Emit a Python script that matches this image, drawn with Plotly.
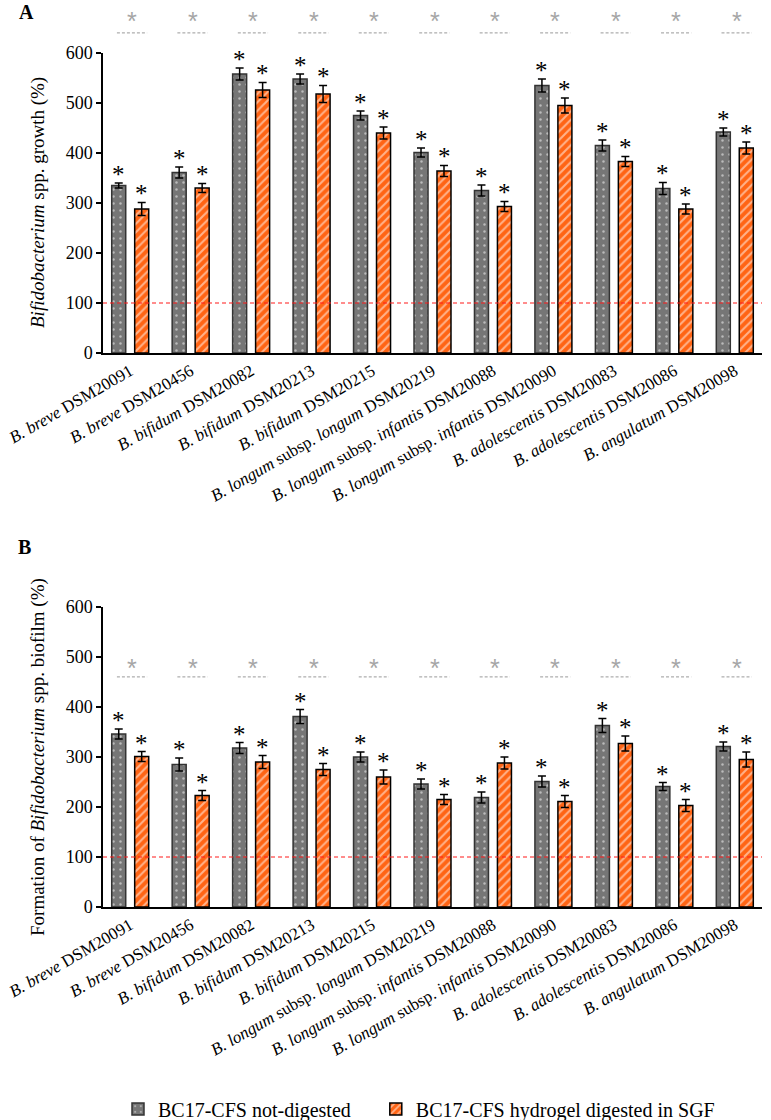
import plotly.graph_objects as go

# ---------------- data ----------------
strains = ["B. breve DSM20091", "B. breve DSM20456", "B. bifidum DSM20082", "B. bifidum DSM20213",
           "B. bifidum DSM20215", "B. longum subsp. longum DSM20219", "B. longum subsp. infantis DSM20088",
           "B. longum subsp. infantis DSM20090", "B. adolescentis DSM20083", "B. adolescentis DSM20086",
           "B. angulatum DSM20098"]
tick_labels = ["<i>B. breve</i> DSM20091", "<i>B. breve</i> DSM20456", "<i>B. bifidum</i> DSM20082",
               "<i>B. bifidum</i> DSM20213", "<i>B. bifidum</i> DSM20215",
               "<i>B. longum</i> subsp. <i>longum</i> DSM20219",
               "<i>B. longum</i> subsp. <i>infantis</i> DSM20088",
               "<i>B. longum</i> subsp. <i>infantis</i> DSM20090",
               "<i>B. adolescentis</i> DSM20083", "<i>B. adolescentis</i> DSM20086",
               "<i>B. angulatum</i> DSM20098"]
series_names = ["BC17-CFS not-digested", "BC17-CFS hydrogel digested in SGF"]

growth_not = [335, 361, 558, 548, 475, 401, 325, 535, 415, 329, 442]
growth_not_err = [5, 11, 12, 10, 9, 9, 11, 13, 11, 12, 8]
growth_sgf = [288, 330, 526, 518, 440, 364, 293, 495, 383, 288, 410]
growth_sgf_err = [13, 9, 15, 17, 12, 11, 10, 15, 10, 10, 12]

biofilm_not = [346, 285, 318, 381, 300, 246, 219, 251, 363, 241, 321]
biofilm_not_err = [10, 13, 11, 14, 10, 10, 11, 11, 14, 8, 9]
biofilm_sgf = [301, 223, 290, 275, 260, 215, 288, 211, 327, 203, 295]
biofilm_sgf_err = [10, 10, 13, 12, 14, 10, 12, 12, 15, 12, 15]

y_ticks = [0, 100, 200, 300, 400, 500, 600]
baseline_value = 100

# ---------------- styling ----------------
W, H = 771, 1120
SERIF = "Liberation Serif"
GRAY = "#767676"
ORANGE = "#ff6414"

def px_x(p):
    return p / W

def px_y(p):
    return 1 - p / H

x_dom = [px_x(103), px_x(762)]
yA_dom = [px_y(353), px_y(53)]
yB_dom = [px_y(907), px_y(607)]

fig = go.Figure()

def add_panel(vals_not, err_not, vals_sgf, err_sgf, xa, ya, show_legend):
    fig.add_trace(go.Bar(
        x=strains, y=vals_not, name=series_names[0] + "\u00a0" * 4, xaxis=xa, yaxis=ya,
        showlegend=show_legend, legendgroup="g0",
        marker=dict(color=GRAY, line=dict(color="#333333", width=1.5),
                    pattern=dict(shape=".", fgcolor="white", bgcolor=GRAY, size=7, solidity=0.1)),
        error_y=dict(type="data", array=err_not, color="black", thickness=1.5, width=4),
    ))
    fig.add_trace(go.Bar(
        x=strains, y=vals_sgf, name=series_names[1], xaxis=xa, yaxis=ya,
        showlegend=show_legend, legendgroup="g1",
        marker=dict(color=ORANGE, line=dict(color="black", width=1.5),
                    pattern=dict(shape="/", fgcolor="white", bgcolor=ORANGE, size=6, solidity=0.35)),
        error_y=dict(type="data", array=err_sgf, color="black", thickness=1.5, width=4),
    ))
    # black significance asterisks above each bar
    for vals, errs, shift in ((vals_not, err_not, -11.5), (vals_sgf, err_sgf, 11.5)):
        for s, v, e in zip(strains, vals, errs):
            fig.add_annotation(x=s, y=v + e, xref=xa, yref=ya, text="*", showarrow=False,
                               xshift=shift, yshift=-7, yanchor="bottom", xanchor="center",
                               font=dict(family=SERIF, size=25, color="#000000"))

add_panel(growth_not, growth_not_err, growth_sgf, growth_sgf_err, "x", "y", True)
add_panel(biofilm_not, biofilm_not_err, biofilm_sgf, biofilm_sgf_err, "x2", "y2", False)

# gray asterisks with dashed lines (comparison markers)
for yref, star_y, dash_y in (("y domain", 1.105, 1.067), ("y2 domain", 0.798, 0.767)):
    xref = "x" if yref.startswith("y ") else "x2"
    for i, s in enumerate(strains):
        fig.add_annotation(x=s, y=star_y, xref=xref, yref=yref, text="*", showarrow=False,
                           yanchor="middle", xanchor="center", xshift=2,
                           font=dict(family="Liberation Sans", size=25, color="#a6a6a6"))
        fig.add_shape(type="line", xref=xref, yref=yref, x0=i - 0.22, x1=i + 0.28, y0=dash_y, y1=dash_y,
                      line=dict(color="#9a9a9a", width=1, dash="3px,2px"))

# red dashed reference lines at 100 %
for xref, yref in (("x domain", "y"), ("x2 domain", "y2")):
    fig.add_shape(type="line", xref=xref, yref=yref, x0=0, x1=1, y0=baseline_value, y1=baseline_value,
                  line=dict(color="#ff1a1a", width=1.2, dash="4px,3px"), layer="above")

axis_common = dict(showline=True, linecolor="black", linewidth=1.5, showgrid=False, zeroline=False,
                   automargin=False)
xaxis_common = dict(axis_common, type="category", tickvals=strains, ticktext=tick_labels, tickangle=-30,
                    ticks="", range=[-0.45, 10.45], domain=x_dom,
                    tickfont=dict(family=SERIF, size=17, color="black"))
yaxis_common = dict(axis_common, range=[0, 600], tickvals=y_ticks, ticks="outside", ticklen=5, tickwidth=1.5,
                    tickcolor="black", tickfont=dict(family=SERIF, size=18, color="black"))

fig.update_layout(
    width=W, height=H, margin=dict(l=0, r=0, t=0, b=0, autoexpand=False),
    paper_bgcolor="white", plot_bgcolor="white",
    barmode="group", bargap=0.24, bargroupgap=0.39,
    xaxis=dict(xaxis_common, anchor="y"),
    yaxis=dict(yaxis_common, domain=yA_dom, anchor="x"),
    xaxis2=dict(xaxis_common, anchor="y2"),
    yaxis2=dict(yaxis_common, domain=yB_dom, anchor="x2"),
    legend=dict(orientation="h", x=px_x(118), xanchor="left", y=px_y(1109), yanchor="middle",
                font=dict(family=SERIF, size=20, color="black"), bgcolor="rgba(0,0,0,0)",
                itemwidth=30),
    showlegend=True,
)

# axis titles and panel letters
fig.add_annotation(x=px_x(38), y=(yA_dom[0] + yA_dom[1]) / 2, xref="paper", yref="paper",
                   xanchor="center", yanchor="middle",
                   text="<i>Bifidobacterium</i> spp. growth (%)", textangle=-90, showarrow=False,
                   font=dict(family=SERIF, size=19, color="black"))
fig.add_annotation(x=px_x(38), y=(yB_dom[0] + yB_dom[1]) / 2, xref="paper", yref="paper",
                   xanchor="center", yanchor="middle",
                   text="Formation of <i>Bifidobacterium</i> spp. biofilm (%)", textangle=-90, showarrow=False,
                   font=dict(family=SERIF, size=19, color="black"))
fig.add_annotation(x=px_x(26), y=px_y(12), xref="paper", yref="paper", text="<b>A</b>", showarrow=False,
                   xanchor="center", yanchor="middle",
                   font=dict(family=SERIF, size=20, color="black"))
fig.add_annotation(x=px_x(24), y=px_y(547), xref="paper", yref="paper", text="<b>B</b>", showarrow=False,
                   xanchor="center", yanchor="middle",
                   font=dict(family=SERIF, size=20, color="black"))

fig.write_html("out.html", config={"displayModeBar": False},
               post_script="document.body.style.margin='0px';")
